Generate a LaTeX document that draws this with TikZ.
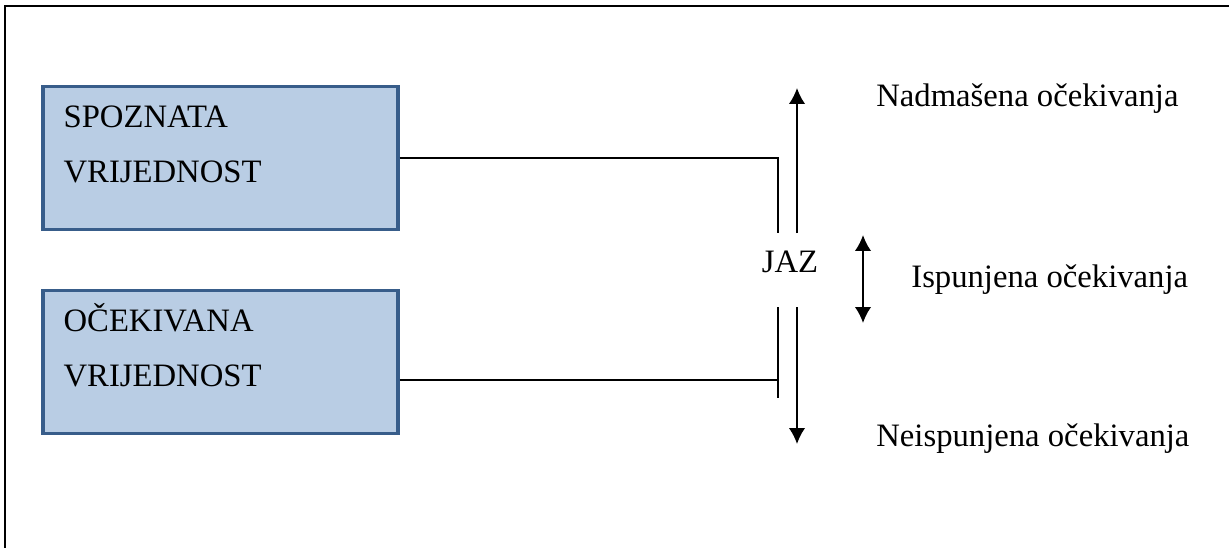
\documentclass[tikz,border=0pt]{standalone}
\usepackage{fontspec}
\setmainfont{Liberation Serif}
\usepackage{xcolor}
\usetikzlibrary{arrows.meta,positioning}
\definecolor{boxfill}{RGB}{185,205,228}
\definecolor{boxline}{RGB}{56,93,138}

\begin{document}
\begin{tikzpicture}[
    x=0.02cm, y=-0.02cm,
    font=\fontsize{18.6}{31.3}\selectfont,
    valbox/.style={rectangle, draw=boxline, fill=boxfill, line width=2pt, minimum width=7.1cm, minimum height=2.86cm, inner sep=0pt},
    valtext/.style={align=left, inner sep=0pt},
    conn/.style={line width=0.8pt},
    gaparrow/.style={-{Latex[length=3.2mm,width=3.3mm]}, line width=1.1pt},
    bothway/.style={{Latex[length=3.2mm,width=3.3mm]}-{Latex[length=3.2mm,width=3.3mm]}, line width=1.1pt},
    outcome/.style={anchor=base west, inner sep=0pt}
]
\useasboundingbox (0,0) rectangle (1229,547);

% Outer frame
\draw[line width=1.1pt] (5,560) |- (1240,6);

% Value boxes
\node[valbox] (spoz) at (220.5,158) {};
\node[valtext, below right=0.26cm and 0.44cm of spoz.north west] (spoztxt) {\rule{0pt}{17pt}SPOZNATA\\VRIJEDNOST};
\node[valbox] (ocek) at (220.5,362) {};
\node[valtext, below right=0.26cm and 0.44cm of ocek.north west] (ocektxt) {\rule{0pt}{17pt}OČEKIVANA\\VRIJEDNOST};

% Gap
\node[inner sep=1pt, anchor=base] (jaz) at (790,272) {JAZ};
\coordinate (gapTop) at (778,233);
\coordinate (gapBot) at (778,307);
\coordinate (lowJoin) at (778,380);
\coordinate (lowEnd) at (778,398);
\coordinate (upStart) at (797,233);
\coordinate (upTip) at (797,88);
\coordinate (downStart) at (797,307);
\coordinate (downTip) at (797,444);
\coordinate (metTop) at (863,235);
\coordinate (metBot) at (863,323);

% Connectors
\draw[conn] (spoz.east) -| (gapTop);
\draw[conn] (lowJoin -| ocek.east) -- (lowJoin);
\draw[conn] (gapBot) -- (lowEnd);

% Arrows
\draw[gaparrow] (upStart) -- (upTip);
\draw[gaparrow] (downStart) -- (downTip);
\draw[bothway] (metTop) -- (metBot);

% Outcomes
\node[outcome] (nadm) at (876,107) {Nadmašena očekivanja};
\node[outcome] (ispu) at (911,287) {Ispunjena očekivanja};
\node[outcome] (neis) at (876,446) {Neispunjena očekivanja};

\end{tikzpicture}
\end{document}
